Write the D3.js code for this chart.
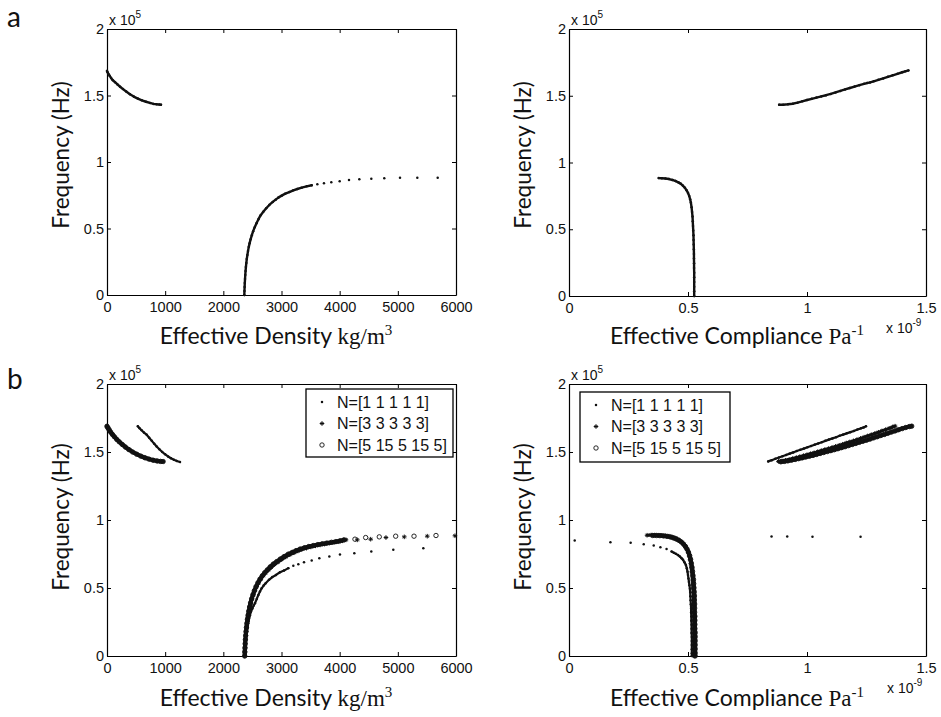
<!DOCTYPE html>
<html><head><meta charset="utf-8">
<script src="https://cdn.jsdelivr.net/npm/d3@7"></script>
<style>body{margin:0;background:#fff} svg{display:block}</style>
</head><body>
<svg id="c" width="941" height="717"></svg>
<script>
// ---------- tick values / labels ----------
const densityTicks = [0,1000,2000,3000,4000,5000,6000];
const complianceTicks = [0,0.5,1,1.5];          // x 1e-9 Pa^-1
const freqTicks = [0,0.5,1,1.5,2];               // x 1e5 Hz
const legendLabels = ["N=[1 1 1 1 1]","N=[3 3 3 3 3]","N=[5 15 5 15 5]"];

// ---------- panel a : [x, frequency(x1e5 Hz)] ----------
const aDensUpper = [[0,1.685],[10,1.675],[25,1.662],[45,1.648],[70,1.632],[100,1.615],[138,1.600],[180,1.583],[225,1.566],[275,1.548],[330,1.530],[395,1.509],[460,1.492],[530,1.477],[600,1.464],[670,1.453],[739,1.444],[800,1.437],[854,1.434],[900,1.432],[928,1.431]];
const aDensLower = [[2361,0],[2363,0.03],[2366,0.06],[2369,0.09],[2373,0.12],[2377,0.15],[2382,0.18],[2388,0.21],[2395,0.24],[2403,0.27],[2413,0.30],[2424,0.33],[2437,0.36],[2452,0.39],[2470,0.42],[2490,0.45],[2513,0.48],[2540,0.51],[2570,0.54],[2604,0.57],[2642,0.60],[2687,0.626],[2737,0.652],[2790,0.677],[2850,0.700],[2900,0.717],[2944,0.732],[3003,0.747],[3065,0.762],[3134,0.774],[3203,0.787],[3272,0.797],[3347,0.807],[3433,0.817],[3519,0.825],[3616,0.832],[3730,0.840],[3856,0.847],[4000,0.855],[4160,0.865],[4338,0.870],[4544,0.874],[4767,0.877],[5037,0.882],[5335,0.882],[5685,0.882]];
const aCompUpper = [[0.883,1.433],[0.90,1.433],[0.92,1.436],[0.94,1.440],[0.96,1.448],[0.98,1.458],[1.0,1.468],[1.02,1.477],[1.04,1.486],[1.06,1.495],[1.08,1.504],[1.10,1.514],[1.12,1.525],[1.14,1.536],[1.16,1.547],[1.18,1.558],[1.20,1.569],[1.22,1.579],[1.24,1.589],[1.252,1.595],[1.265,1.600],[1.28,1.608],[1.30,1.619],[1.32,1.630],[1.34,1.642],[1.36,1.653],[1.38,1.664],[1.40,1.676],[1.413,1.683],[1.426,1.690]];
const aCompLower = [[0.377,0.883],[0.39,0.882],[0.405,0.880],[0.42,0.876],[0.435,0.869],[0.448,0.861],[0.46,0.851],[0.47,0.840],[0.479,0.826],[0.487,0.810],[0.494,0.792],[0.50,0.772],[0.505,0.750],[0.509,0.725],[0.512,0.70],[0.515,0.665],[0.517,0.63],[0.519,0.595],[0.520,0.56],[0.521,0.525],[0.522,0.49],[0.523,0.455],[0.5235,0.42],[0.524,0.385],[0.5245,0.35],[0.525,0.315],[0.525,0.28],[0.5255,0.245],[0.5255,0.21],[0.526,0.175],[0.526,0.14],[0.526,0.105],[0.526,0.07],[0.526,0.035],[0.526,0]];

// ---------- panel b, density ----------
const bDensN1Upper = [[530,1.690],[560,1.675],[595,1.660],[635,1.643],[682,1.627],[725,1.605],[770,1.582],[812,1.561],[854,1.541],[900,1.520],[950,1.500],[1000,1.483],[1050,1.467],[1100,1.454],[1150,1.443],[1200,1.434],[1255,1.426]];
const bDensN1Lower = [[2372,0],[2374,0.03],[2377,0.06],[2380,0.093],[2385,0.12],[2392,0.15],[2400,0.175],[2410,0.20],[2420,0.225],[2432,0.255],[2445,0.28],[2458,0.30],[2475,0.325],[2500,0.35],[2520,0.37],[2544,0.388],[2575,0.42],[2602,0.449],[2630,0.475],[2659,0.498],[2693,0.518],[2728,0.535],[2785,0.560],[2842,0.580],[2905,0.596],[2974,0.616],[3043,0.628],[3117,0.646],[3203,0.663],[3289,0.675],[3387,0.690],[3519,0.702],[3650,0.719],[3822,0.731],[4005,0.746],[4252,0.756],[4544,0.768],[4922,0.781],[5438,0.793]];
const bDensN3Upper = [[0,1.692],[20,1.676],[42,1.660],[68,1.644],[100,1.626],[137,1.607],[178,1.589],[225,1.570],[276,1.551],[332,1.532],[393,1.514],[458,1.497],[528,1.481],[598,1.468],[668,1.456],[738,1.446],[808,1.439],[875,1.434],[935,1.431]];
const bDensN3Lower = [[2370,0],[2372,0.03],[2375,0.06],[2378,0.09],[2382,0.12],[2387,0.15],[2393,0.18],[2400,0.21],[2409,0.24],[2418,0.27],[2429,0.30],[2442,0.33],[2457,0.36],[2474,0.39],[2494,0.42],[2517,0.45],[2544,0.48],[2574,0.51],[2607,0.538],[2645,0.565],[2686,0.590],[2730,0.612],[2775,0.632],[2825,0.652],[2882,0.673],[2940,0.691],[3005,0.71],[3072,0.728],[3145,0.745],[3215,0.759],[3282,0.772],[3350,0.783],[3430,0.793],[3505,0.802],[3585,0.81],[3665,0.817],[3740,0.823],[3820,0.829],[3905,0.835],[3985,0.84],[4050,0.847],[4109,0.854],[4303,0.854],[4533,0.859],[4796,0.871],[5111,0.876],[5506,0.881],[5982,0.884]];
const bDensN5Upper = [[0,1.688],[15,1.678],[35,1.664],[60,1.648],[90,1.631],[125,1.613],[165,1.594],[210,1.575],[260,1.556],[315,1.537],[375,1.518],[440,1.500],[510,1.484],[580,1.470],[650,1.458],[720,1.448],[790,1.440],[860,1.434],[920,1.431],[965,1.430]];
const bDensN5Lower = [[2367,0],[2369,0.03],[2372,0.06],[2375,0.09],[2379,0.12],[2384,0.15],[2390,0.18],[2397,0.21],[2405,0.24],[2414,0.27],[2425,0.30],[2437,0.33],[2451,0.36],[2467,0.39],[2486,0.42],[2508,0.45],[2533,0.48],[2562,0.51],[2594,0.538],[2630,0.565],[2670,0.590],[2712,0.613],[2756,0.633],[2805,0.655],[2860,0.676],[2917,0.694],[2980,0.713],[3045,0.731],[3117,0.749],[3185,0.762],[3250,0.775],[3318,0.786],[3395,0.796],[3470,0.805],[3547,0.812],[3625,0.819],[3700,0.825],[3777,0.830],[3860,0.836],[3935,0.841],[4005,0.847],[4074,0.854],[4263,0.859],[4447,0.871],[4681,0.876],[4963,0.881],[5278,0.881],[5656,0.886]];

// ---------- panel b, compliance ----------
const bCompN1Lower = [[0.024,0.849],[0.174,0.837],[0.259,0.832],[0.314,0.822],[0.356,0.812],[0.384,0.800],[0.41,0.786],[0.431,0.768],[0.44,0.760],[0.449,0.751],[0.458,0.742],[0.466,0.731],[0.473,0.719],[0.479,0.707],[0.485,0.690],[0.491,0.670],[0.495,0.645],[0.498,0.62],[0.50,0.595],[0.502,0.57],[0.504,0.545],[0.506,0.52],[0.508,0.495],[0.509,0.47],[0.51,0.44],[0.511,0.41],[0.512,0.38],[0.513,0.35],[0.513,0.32],[0.514,0.29],[0.514,0.26],[0.515,0.23],[0.515,0.20],[0.515,0.17],[0.516,0.14],[0.516,0.11],[0.516,0.08],[0.516,0.05],[0.516,0.02],[0.516,0]];
const bCompN1Right = [[0.851,0.879],[0.917,0.879],[1.023,0.876],[1.225,0.876]];
const bCompN1Upper = [[0.837,1.431],[0.852,1.440],[0.867,1.450],[0.882,1.459],[0.897,1.469],[0.912,1.478],[0.927,1.488],[0.942,1.497],[0.957,1.507],[0.972,1.516],[0.987,1.525],[1.002,1.535],[1.017,1.544],[1.032,1.554],[1.047,1.563],[1.062,1.572],[1.077,1.582],[1.092,1.591],[1.107,1.600],[1.122,1.609],[1.137,1.619],[1.152,1.628],[1.167,1.637],[1.182,1.646],[1.197,1.655],[1.212,1.665],[1.227,1.674],[1.238,1.681],[1.248,1.689]];
const bCompN3Lower = [[0.328,0.888],[0.345,0.889],[0.36,0.889],[0.375,0.888],[0.39,0.887],[0.405,0.885],[0.42,0.881],[0.433,0.876],[0.445,0.869],[0.456,0.860],[0.466,0.849],[0.475,0.836],[0.483,0.821],[0.49,0.803],[0.496,0.783],[0.501,0.760],[0.505,0.735],[0.509,0.707],[0.512,0.678],[0.514,0.648],[0.516,0.618],[0.518,0.588],[0.519,0.558],[0.52,0.528],[0.521,0.498],[0.522,0.468],[0.522,0.438],[0.523,0.408],[0.523,0.378],[0.524,0.348],[0.524,0.318],[0.524,0.288],[0.525,0.258],[0.525,0.228],[0.525,0.198],[0.525,0.168],[0.526,0.138],[0.526,0.108],[0.526,0.078],[0.526,0.048],[0.526,0.018],[0.526,0]];
const bCompN3Upper = [[0.880,1.431],[0.895,1.434],[0.910,1.439],[0.925,1.445],[0.940,1.452],[0.955,1.459],[0.970,1.466],[0.985,1.473],[1.000,1.480],[1.015,1.487],[1.030,1.494],[1.045,1.502],[1.060,1.510],[1.075,1.518],[1.090,1.525],[1.105,1.533],[1.120,1.541],[1.135,1.549],[1.150,1.557],[1.165,1.566],[1.180,1.574],[1.195,1.582],[1.210,1.591],[1.225,1.600],[1.240,1.609],[1.255,1.618],[1.270,1.627],[1.285,1.636],[1.300,1.645],[1.315,1.655],[1.330,1.664],[1.345,1.674],[1.360,1.684],[1.370,1.690]];
const bCompN5Lower = [[0.352,0.886],[0.367,0.886],[0.382,0.885],[0.397,0.883],[0.412,0.880],[0.426,0.875],[0.439,0.868],[0.451,0.860],[0.462,0.850],[0.472,0.838],[0.481,0.823],[0.489,0.806],[0.496,0.786],[0.502,0.763],[0.507,0.738],[0.511,0.711],[0.514,0.682],[0.517,0.652],[0.519,0.622],[0.521,0.592],[0.523,0.562],[0.524,0.532],[0.525,0.502],[0.526,0.472],[0.527,0.442],[0.527,0.412],[0.528,0.382],[0.528,0.352],[0.528,0.322],[0.529,0.292],[0.529,0.262],[0.529,0.232],[0.529,0.202],[0.53,0.172],[0.53,0.142],[0.53,0.112],[0.53,0.082],[0.53,0.052],[0.53,0.022],[0.53,0]];
const bCompN5Upper = [[0.890,1.428],[0.905,1.431],[0.920,1.435],[0.935,1.440],[0.950,1.445],[0.965,1.451],[0.980,1.457],[0.995,1.463],[1.010,1.469],[1.025,1.475],[1.040,1.482],[1.055,1.489],[1.070,1.496],[1.085,1.503],[1.100,1.510],[1.115,1.517],[1.130,1.524],[1.145,1.532],[1.160,1.539],[1.175,1.547],[1.190,1.555],[1.205,1.563],[1.220,1.571],[1.235,1.579],[1.250,1.587],[1.265,1.595],[1.280,1.604],[1.295,1.612],[1.310,1.621],[1.325,1.629],[1.340,1.638],[1.355,1.647],[1.370,1.655],[1.385,1.664],[1.400,1.672],[1.415,1.680],[1.430,1.687],[1.440,1.690]];

// ---------- drawing ----------
const svg = d3.select("#c");
const SANS = "'Liberation Sans', Arial, sans-serif";
const SERIF = "'Liberation Serif', 'Times New Roman', serif";
const LABEL = "Lato, 'Open Sans', sans-serif";
const INK = "#111";

function makePanel(o){
  const x = d3.scaleLinear().domain(o.xDomain).range([o.x0,o.x1]);
  const y = d3.scaleLinear().domain([0,2]).range([o.bottom,o.top]);
  const g = svg.append("g");
  const style = sel => {
    sel.selectAll(".domain").attr("stroke","#000").attr("stroke-width",1.2);
    sel.selectAll(".tick line").attr("stroke","#000").attr("stroke-width",1);
    sel.selectAll("text").attr("fill",INK).style("font-family",SANS).style("font-size","14.5px");
  };
  g.append("g").attr("transform",`translate(0,${o.bottom})`)
    .call(d3.axisBottom(x).tickValues(o.xTicks).tickSizeInner(-4).tickSizeOuter(0).tickPadding(7).tickFormat(d=>String(d))).call(style);
  g.append("g").attr("transform",`translate(0,${o.top})`)
    .call(d3.axisTop(x).tickValues(o.xTicks).tickSizeInner(-4).tickSizeOuter(0).tickFormat("")).call(style);
  g.append("g").attr("transform",`translate(${o.x0},0)`)
    .call(d3.axisLeft(y).tickValues(freqTicks).tickSizeInner(-4).tickSizeOuter(0).tickPadding(3).tickFormat(d=>String(d))).call(style);
  g.append("g").attr("transform",`translate(${o.x1},0)`)
    .call(d3.axisRight(y).tickValues(freqTicks).tickSizeInner(-4).tickSizeOuter(0).tickFormat("")).call(style);
  const m = svg.append("text").attr("x",o.x0+2).attr("y",o.top-4).attr("fill",INK)
    .style("font-family",SANS).style("font-size","14px");
  m.append("tspan").text("x 10");
  m.append("tspan").attr("dy",-7).style("font-size","10px").text("5");
  return {x,y,g};
}

function starPath(cx,cy){
  const a=2.3,b=1.5;
  return `M${cx-a},${cy}H${cx+a}M${cx},${cy-a}V${cy+a}M${cx-b},${cy-b}L${cx+b},${cy+b}M${cx-b},${cy+b}L${cx+b},${cy-b}`;
}
function marker(g,kind,cx,cy){
  if(kind==="dot") g.append("circle").attr("cx",cx).attr("cy",cy).attr("r",1.25).attr("fill",INK);
  else if(kind==="star") g.append("path").attr("d",starPath(cx,cy)).attr("stroke",INK).attr("stroke-width",1).attr("fill","none");
  else g.append("circle").attr("cx",cx).attr("cy",cy).attr("r",2.2).attr("fill","none").attr("stroke",INK).attr("stroke-width",0.9);
}
function drawSeries(P,branch,kind,lw){
  const pts = branch.map(d=>[P.x(d[0]),P.y(d[1])]);
  let dstr = "";
  for(let i=1;i<pts.length;i++){
    const dx=pts[i][0]-pts[i-1][0], dy=pts[i][1]-pts[i-1][1];
    if(Math.hypot(dx,dy)<5.2) dstr += `M${pts[i-1][0]},${pts[i-1][1]}L${pts[i][0]},${pts[i][1]}`;
  }
  if(dstr) P.g.append("path").attr("d",dstr).attr("stroke",INK).attr("stroke-width",lw)
      .attr("stroke-linecap","round").attr("fill","none");
  const mg = P.g.append("g");
  pts.forEach(p=>marker(mg,kind,p[0],p[1]));
}

function xLabel(cx,baseline,main,unit,sup){
  const t = svg.append("text").attr("x",cx).attr("y",baseline).attr("text-anchor","middle")
    .attr("fill",INK).style("font-family",LABEL).style("font-size","23px");
  t.append("tspan").text(main);
  t.append("tspan").style("font-family",SERIF).text(unit);
  t.append("tspan").style("font-family",SERIF).style("font-size","15px").attr("dy",-9).text(sup);
}
function yLabel(cx,cy){
  svg.append("text").attr("transform",`translate(${cx},${cy}) rotate(-90)`).attr("text-anchor","middle")
    .attr("fill",INK).style("font-family",LABEL).style("font-size","22.5px").text("Frequency (Hz)");
}
function expLabel(x,y){
  const t = svg.append("text").attr("x",x).attr("y",y).attr("fill",INK).style("font-family",SANS).style("font-size","14px");
  t.append("tspan").text("x 10");
  t.append("tspan").attr("dy",-7).style("font-size","10px").text("-9");
}
function legend(x0,y0,w,h){
  svg.append("rect").attr("x",x0).attr("y",y0).attr("width",w).attr("height",h)
    .attr("fill","#fff").attr("stroke","#000").attr("stroke-width",1.3);
  const kinds=["dot","star","circle"];
  const lg = svg.append("g");
  legendLabels.forEach((lab,i)=>{
    const cy = y0+13+i*21.5;
    marker(lg,kinds[i],x0+16,cy);
    lg.append("text").attr("x",x0+31).attr("y",cy).attr("dy","0.36em").attr("fill",INK)
      .style("font-family",SANS).style("font-size","16px").text(lab);
  });
}

// panel letters
svg.append("text").attr("x",7).attr("y",27).attr("fill",INK).style("font-family",LABEL).style("font-size","28px").text("a");
svg.append("text").attr("x",7).attr("y",389).attr("fill",INK).style("font-family",LABEL).style("font-size","28px").text("b");

// ---- a left
const aL = makePanel({x0:107,x1:456,top:29,bottom:295,xDomain:[0,6000],xTicks:densityTicks});
drawSeries(aL,aDensUpper,"dot",2.4);
drawSeries(aL,aDensLower,"dot",2.4);
xLabel(276,344,"Effective Density ","kg/m","3");
yLabel(69,155);

// ---- a right
const aR = makePanel({x0:569,x1:926,top:29,bottom:296,xDomain:[0,1.5],xTicks:complianceTicks});
drawSeries(aR,aCompUpper,"dot",2.4);
drawSeries(aR,aCompLower,"dot",2.4);
xLabel(737,344,"Effective Compliance ","Pa","-1");
yLabel(531,155);
expLabel(886,333);

// ---- b left
const bL = makePanel({x0:107,x1:456,top:384,bottom:656,xDomain:[0,6000],xTicks:densityTicks});
drawSeries(bL,bDensN1Upper,"dot",2.2);
drawSeries(bL,bDensN1Lower,"dot",2.2);
drawSeries(bL,bDensN3Upper,"star",3);
drawSeries(bL,bDensN3Lower,"star",3);
drawSeries(bL,bDensN5Upper,"circle",4.2);
drawSeries(bL,bDensN5Lower,"circle",4.2);
legend(306,389,147,68);
xLabel(276,706,"Effective Density ","kg/m","3");
yLabel(69,517);

// ---- b right
const bR = makePanel({x0:569,x1:926,top:384,bottom:656,xDomain:[0,1.5],xTicks:complianceTicks});
drawSeries(bR,bCompN1Lower,"dot",2.2);
drawSeries(bR,bCompN1Right,"dot",2.2);
drawSeries(bR,bCompN1Upper,"dot",2.2);
drawSeries(bR,bCompN3Lower,"star",3);
drawSeries(bR,bCompN3Upper,"star",3);
drawSeries(bR,bCompN5Lower,"circle",4.2);
drawSeries(bR,bCompN5Upper,"circle",4.2);
legend(580,392,150,70);
xLabel(737,706,"Effective Compliance ","Pa","-1");
yLabel(531,517);
expLabel(887,693);
</script>
</body></html>
